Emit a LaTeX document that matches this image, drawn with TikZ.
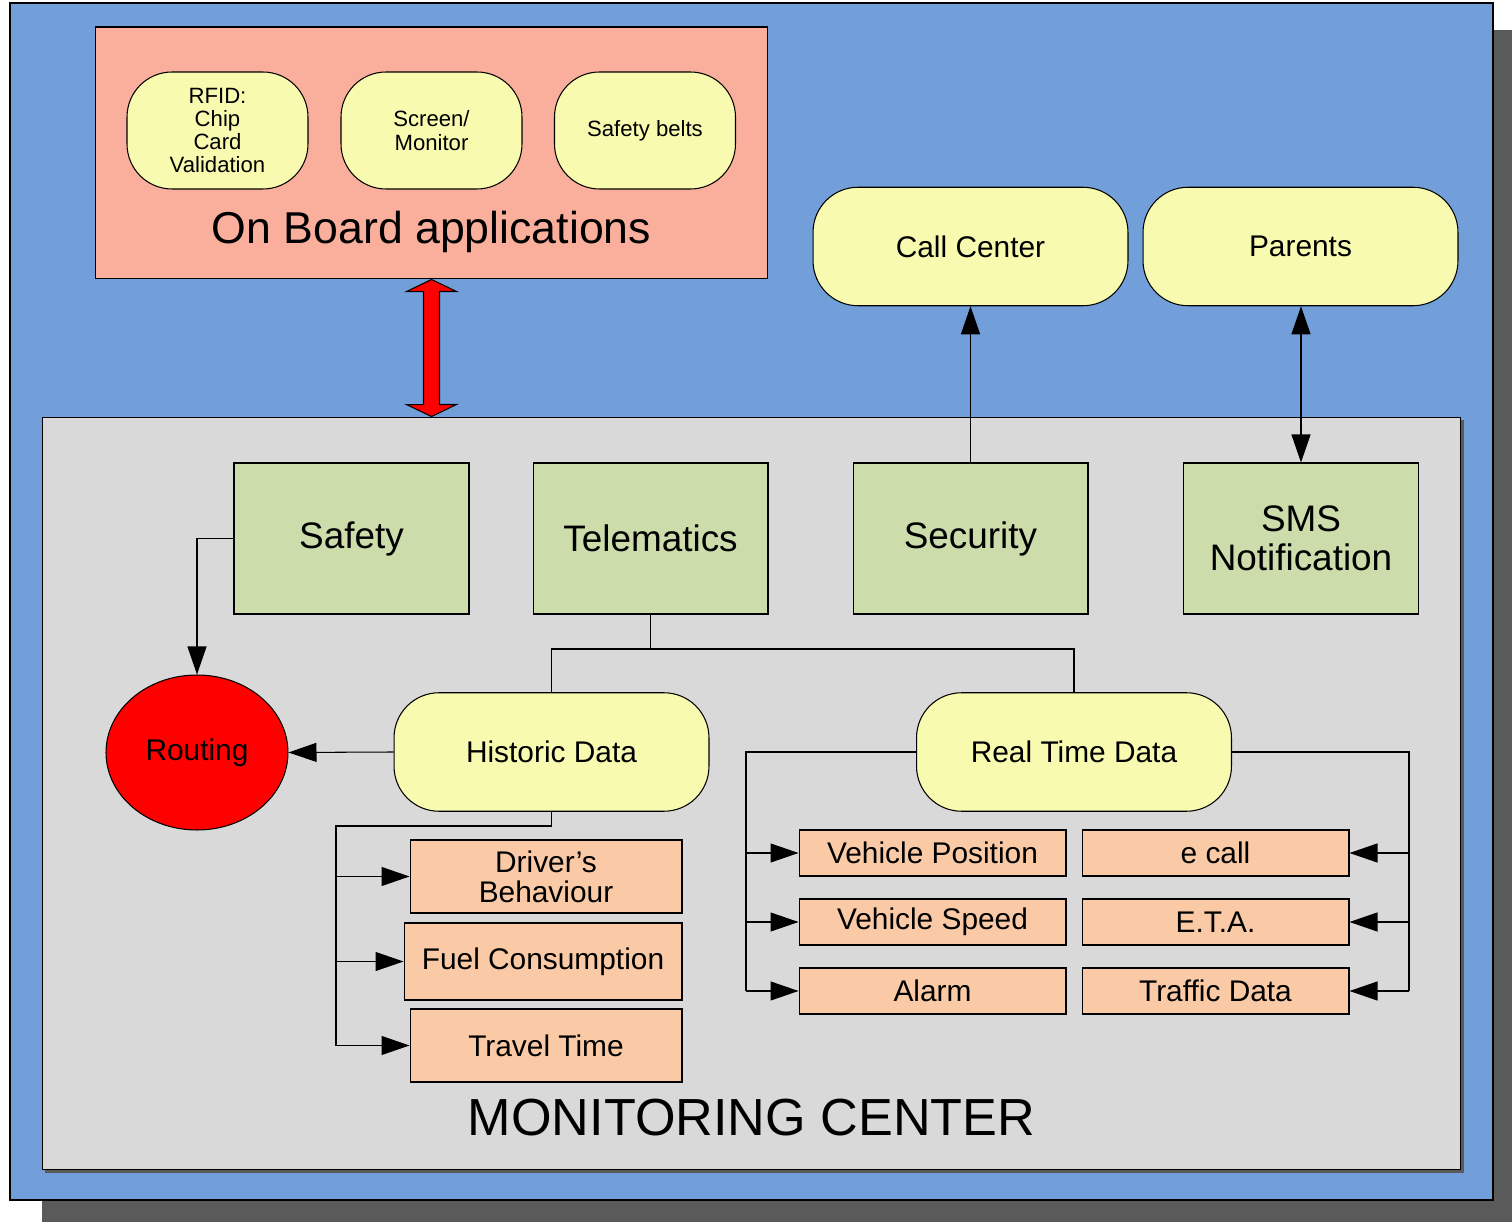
\documentclass[tikz,border=0pt]{standalone}
\usepackage{fontspec}
\setmainfont{Liberation Sans}
\usepackage{tikz}
\usetikzlibrary{arrows,arrows.meta,positioning,shapes,calc}

\definecolor{skyblue}{HTML}{729FD9}
\definecolor{salmon}{HTML}{FAAF9C}
\definecolor{paleyellow}{HTML}{F8FAAF}
\definecolor{centergray}{HTML}{D9D9D9}
\definecolor{sagegreen}{HTML}{CCDCAB}
\definecolor{peach}{HTML}{F9CAA5}
\definecolor{shadowgray}{HTML}{5A5A5A}

\begin{document}
\begin{tikzpicture}[x=0.02cm, y=-0.02cm, line width=0.6pt,
  every node/.style={align=center, inner sep=0pt},
  pill/.style={draw, fill=paleyellow, rounded corners=0.9cm},
  smallpill/.style={pill, minimum width=3.62cm, minimum height=2.34cm, font=\fontsize{12.6}{13.2}\selectfont},
  bigpill/.style={pill, minimum width=6.3cm, minimum height=2.37cm, font=\fontsize{17}{20}\selectfont},
  greenbox/.style={draw, fill=sagegreen, minimum width=4.7cm, minimum height=3.02cm, font=\fontsize{21}{22}\selectfont},
  databox/.style={draw, fill=peach, minimum width=5.34cm, minimum height=0.92cm, font=\fontsize{17}{17}\selectfont},
  arr/.style={-{Triangle[length=0.56cm,width=0.38cm]}},
  arrtwo/.style={{Triangle[length=0.56cm,width=0.38cm]}-{Triangle[length=0.56cm,width=0.38cm]}}
]
\useasboundingbox (0,0) rectangle (1512,1222);
% background and frames
\fill[shadowgray] (42,30) rectangle (1512,1222);
\draw[fill=skyblue] (10,3) rectangle (1493,1200);
\node[draw, fill=salmon, minimum width=13.46cm, minimum height=5.04cm] (onboard) at (431.5,153) {};
\node[font=\fontsize{25.4}{28}\selectfont] (onboardlabel) at (431.5,232) {On Board applications};
\fill[shadowgray] (45,420) rectangle (1464,1173);
\node[draw, fill=centergray, minimum width=28.38cm, minimum height=15.06cm] (monitor) at (751.5,793.5) {};
\node[font=\fontsize{29.7}{32}\selectfont] (monitorlabel) at (751.5,1118) {MONITORING CENTER};

% on board applications
\node[smallpill] (rfid) at (217.5,130.5) {RFID:\\Chip\\Card\\Validation};
\node[smallpill] (screen) at (431.5,130.5) {Screen/\\Monitor};
\node[smallpill] (belts) at (645,130.5) {Safety belts};

% outside
\node[bigpill] (callcenter) at (970.5,246.5) {Call Center};
\node[bigpill] (parents) at (1300.5,246.5) {Parents};

% red double arrow
\coordinate (up) at (onboard.south);
\coordinate (dn) at (monitor.north -| onboard.south);
\filldraw[fill=red] (up) -- ++(25,12) -- ++(-17,0) -- ++(0,113) -- ++(17,0) -- (dn)
  -- ++(-25,-12) -- ++(17,0) -- ++(0,-113) -- ++(-17,0) -- cycle;

% monitoring center
\node[greenbox] (safety) at (351.5,538.5) {Safety};
\node[greenbox] (telematics) at (650.5,538.5) {Telematics};
\node[greenbox] (security) at (970.5,538.5) {Security};
\node[greenbox] (sms) at (1301,538.5) {SMS\\Notification};

\node[ellipse, draw, fill=red, minimum width=3.64cm, minimum height=3.1cm, font=\fontsize{17}{20}\selectfont] (routing) at (197,752.5) {Routing};
\node[bigpill] (historic) at (551.5,752) {Historic Data};
\node[bigpill] (realtime) at (1074,752) {Real Time Data};

\node[databox, minimum width=5.44cm, minimum height=1.46cm] (driver) at (546,876.5) {Driver's\\Behaviour};
\node[databox, minimum width=5.56cm, minimum height=1.54cm] (fuel) at (543,961.5) {Fuel Consumption};
\node[databox, minimum width=5.44cm, minimum height=1.46cm] (travel) at (546,1045.5) {Travel Time};

\node[databox] (vpos) at (932.5,853) {Vehicle Position};
\node[databox] (vspeed) at (932.5,922) {Vehicle Speed};
\node[databox] (alarm) at (932.5,991) {Alarm};
\node[databox] (ecall) at (1215.5,853) {e call};
\node[databox] (eta) at (1215.5,922) {E.T.A.};
\node[databox] (traffic) at (1215.5,991) {Traffic Data};

% links
\draw[arr] (safety.west) -| (routing.north);
\draw[arr] (historic.west) -- (routing.east);
\draw[arr] (security.north) -- (callcenter.south);
\draw[arrtwo] (sms.north) -- (sms.north |- parents.south);
\coordinate (tj) at (650.5,649);
\draw (telematics.south) -- (tj);
\draw (historic.north) |- (tj) -| (realtime.north);

\coordinate (hbus) at (336,826);
\draw (historic.south) |- (hbus) -- (hbus |- travel.west);
\foreach \n in {driver,fuel,travel}
  \draw[arr] (hbus |- \n.west) -- (\n.west);

\coordinate (lbus) at (746,752);
\draw (realtime.west) -- (lbus) -- (lbus |- alarm.west);
\foreach \n in {vpos,vspeed,alarm}
  \draw[arr] (lbus |- \n.west) -- (\n.west);

\coordinate (rbus) at (1409,752);
\draw (realtime.east) -- (rbus) -- (rbus |- traffic.east);
\foreach \n in {ecall,eta,traffic}
  \draw[arr] (rbus |- \n.east) -- (\n.east);
\end{tikzpicture}
\end{document}
